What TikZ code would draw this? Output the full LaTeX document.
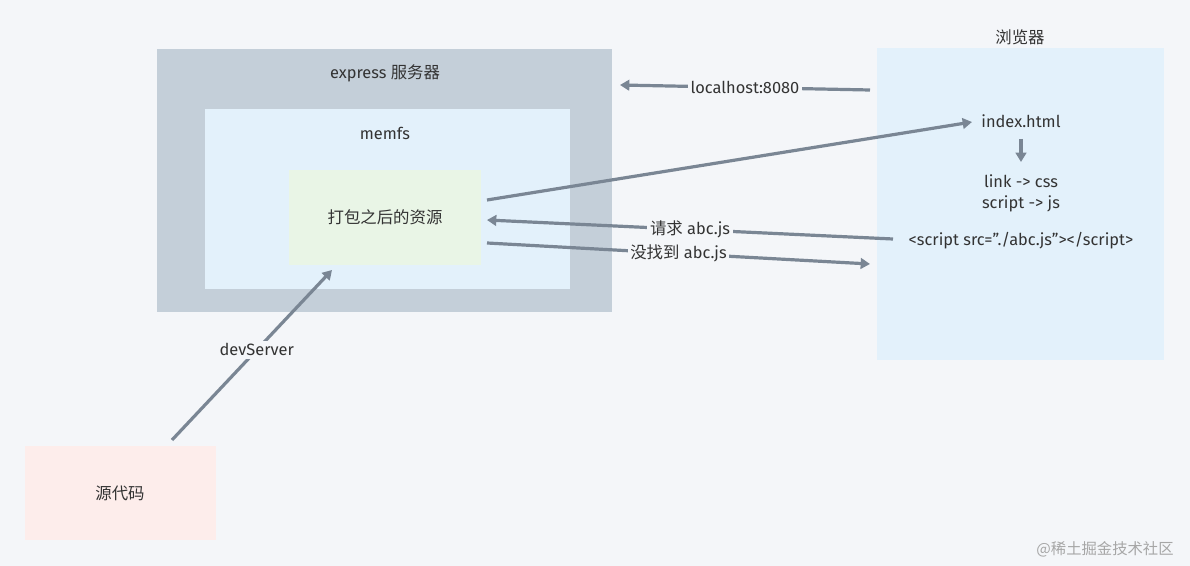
\documentclass[tikz,border=0pt]{standalone}
\usepackage{fontspec}
\setmainfont{Fira Sans}
\newfontfamily\cjk{Noto Sans CJK SC}
\usetikzlibrary{arrows.meta}
\definecolor{bg}{HTML}{F4F6F9}
\definecolor{grayb}{HTML}{C4CFD9}
\definecolor{blueb}{HTML}{E3F1FB}
\definecolor{greenb}{HTML}{E9F5E6}
\definecolor{pinkb}{HTML}{FDEDEB}
\definecolor{arr}{HTML}{7A8694}
\definecolor{txt}{HTML}{333333}
\begin{document}
\begin{tikzpicture}[x=0.75pt,y=-0.75pt,
  lab/.style={text=txt,font=\fontsize{12.3}{14}\selectfont,inner sep=1pt},
  conn/.style={draw=arr,line width=2.4pt,-{Triangle[length=7pt,width=8pt]}},
  onl/.style={lab,fill=bg,inner sep=2pt}]
\fill[bg] (0,0) rectangle (1190,566);
\useasboundingbox (0,0) rectangle (1190,566);
\fill[grayb] (157,49) rectangle (612,312);
\fill[blueb] (205,109) rectangle (570,289);
\fill[greenb] (289,170) rectangle (481,265);
\fill[pinkb] (25,446) rectangle (216,540);
\fill[blueb] (877,48) rectangle (1164,360);
\node[lab] (exp) at (385,73) {express {\cjk 服务器}};
\node[lab] (mem) at (385,133) {memfs};
\node[lab] (pk) at (385,217) {\cjk 打包之后的资源};
\node[lab] (src) at (120,493) {\cjk 源代码};
\node[lab] (br) at (1020,37) {\cjk 浏览器};
\node[lab] (idx) at (1021,121) {index.html};
\node[lab] (lk) at (1021,181) {link -> css};
\node[lab] (sc) at (1021,204) {script -> js};
\node[lab] (tag) at (1021,241) {<script src=\symbol{34}./abc.js\symbol{34}></script>};
\coordinate (l1) at (870,90); \coordinate (l2) at (620,85);
\draw[conn] (l1) -- node[onl] (lh) {localhost:8080} (l2);
\coordinate (p1) at (487,200); \coordinate (p2) at (972,122);
\draw[conn] (p1) -- (p2);
\coordinate (d1) at (1021,139); \coordinate (d2) at (1021,162);
\draw[conn] (d1) -- (d2);
\coordinate (r1) at (893,239); \coordinate (r2) at (487,220);
\draw[conn] (r1) -- node[onl,pos=0.5] (rq) {{\cjk 请求} abc.js} (r2);
\coordinate (n1) at (487,243); \coordinate (n2) at (870,264);
\draw[conn] (n1) -- node[onl,pos=0.5] (nf) {{\cjk 没找到} abc.js} (n2);
\coordinate (s1) at (172,440); \coordinate (s2) at (332,270);
\draw[conn] (s1) -- node[onl,pos=0.53] (dv) {devServer} (s2);
\node[text=gray!70,font=\cjk\fontsize{11.5}{13}\selectfont] (wm) at (1105,549) {@稀土掘金技术社区};
\end{tikzpicture}
\end{document}
